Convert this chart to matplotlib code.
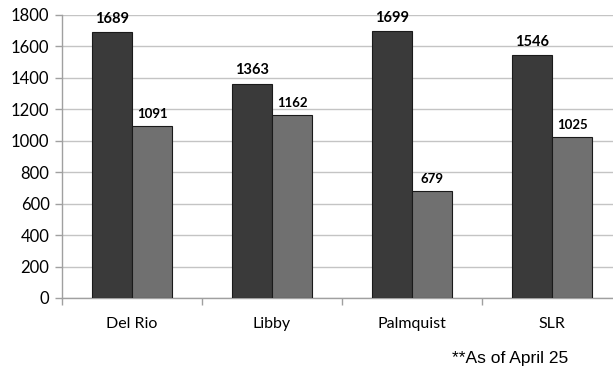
import numpy as np
import matplotlib
matplotlib.use("Agg")
import matplotlib.pyplot as plt

categories = ["Del Rio", "Libby", "Palmquist", "SLR"]
series_a = [1689, 1363, 1699, 1546]
series_b = [1091, 1162, 679, 1025]
yticks = [0, 200, 400, 600, 800, 1000, 1200, 1400, 1600, 1800]

fig = plt.figure(figsize=(6.13, 3.68), dpi=100)
ax = fig.add_axes([62/613, 70/368, 551/613, 283/368])

x = np.arange(len(categories))
w = 40/140
ba = ax.bar(x - w/2, series_a, w, color="#3a3a3a", edgecolor="#1a1a1a", lw=0.8, zorder=3)
bb = ax.bar(x + w/2, series_b, w, color="#707070", edgecolor="#1a1a1a", lw=0.8, zorder=3)

# value labels, the second series is printed a bit smaller
for r, v in zip(ba, series_a):
    ax.text(r.get_x() + r.get_width()/2, v + 40, str(v), ha="center", va="bottom",
            fontsize=10.5, fontweight="bold", family="Lato", clip_on=False)
for r, v in zip(bb, series_b):
    ax.text(r.get_x() + r.get_width()/2, v + 40, str(v), ha="center", va="bottom",
            fontsize=9.5, fontweight="bold", family="Lato", clip_on=False)

ax.set_xlim(-0.5, -0.5 + 551/140)
ax.set_ylim(0, 1800)
ax.set_yticks(yticks)
ax.set_yticklabels([str(t) for t in yticks], family="Lato", fontsize=12)
ax.yaxis.grid(True, color="#c4c4c4", lw=1)
ax.set_axisbelow(True)

ax.set_xticks(x)
ax.set_xticklabels(categories, family="Lato", fontsize=11.5)
ax.tick_params(axis="x", length=0, pad=14)
ax.set_xticks(np.arange(len(categories)) - 0.5, minor=True)
ax.tick_params(axis="x", which="minor", length=5, color="#a0a0a0", width=1)
ax.tick_params(axis="y", length=5, color="#a0a0a0", width=1, pad=4)

for s in ["top", "right"]:
    ax.spines[s].set_visible(False)
for s in ["left", "bottom"]:
    ax.spines[s].set_color("#a0a0a0")
    ax.spines[s].set_linewidth(1)

fig.text(568/613, 1 - 358/368, "**As of April 25", ha="right", va="center",
         family="Liberation Sans", fontsize=12.5)

fig.savefig("out.png", dpi=100)
